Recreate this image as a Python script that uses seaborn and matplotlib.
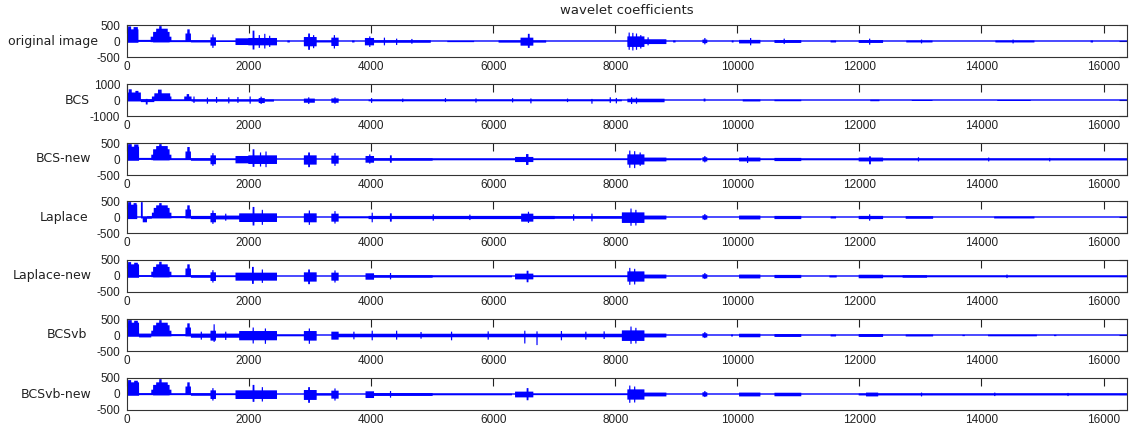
import numpy as np
import matplotlib
matplotlib.use("Agg")
import matplotlib.pyplot as plt
import seaborn as sns

N = 16384

# bursts of wavelet coefficients: (start, stop, top, bottom)
original = [
    (0, 180, 380, -40), (10, 60, 470, -40), (100, 170, 450, -30),
    (180, 380, 50, -10), (380, 720, 150, -20), (420, 690, 300, -30),
    (470, 660, 400, -30), (520, 560, 480, -30), (720, 950, 30, -20),
    (950, 1040, 250, -20), (980, 1020, 380, -20), (1040, 1360, 40, -30),
    (1360, 1450, 130, -130), (1390, 1410, 220, -200), (1450, 1770, 15, -15),
    (1770, 1980, 100, -110), (1980, 2450, 110, -120), (2050, 2080, 340, -250),
    (2150, 2170, 200, -200), (2240, 2260, 240, -220), (2320, 2340, 180, -170),
    (2620, 2660, 30, -30), (2890, 3100, 140, -150), (2960, 2990, 250, -260),
    (3040, 3060, 200, -210), (3100, 3340, 30, -30), (3340, 3460, 120, -140),
    (3380, 3400, 200, -220), (3680, 3720, 30, -30), (3890, 4040, 110, -120),
    (3960, 3980, 160, -170), (4040, 4970, 40, -40), (4200, 4220, 120, -120),
    (4400, 4420, 90, -110), (4650, 4670, 80, -70), (5240, 5680, 20, -20),
    (6080, 6860, 35, -35), (6440, 6650, 120, -130), (6560, 6590, 240, -200),
    (8190, 8470, 160, -170), (8210, 8230, 280, -260), (8270, 8290, 270, -280),
    (8330, 8350, 250, -260), (8400, 8420, 200, -220), (8470, 8830, 70, -80),
    (8520, 8540, 130, -120), (8940, 8980, 30, -30), (9420, 9500, 60, -50),
    (9450, 9470, 110, -90), (9900, 9930, 30, -30), (10020, 10370, 50, -60),
    (10200, 10220, 110, -120), (10600, 11040, 45, -45), (10750, 10770, 90, -80),
    (11520, 11610, 30, -30), (11980, 12380, 45, -45), (12150, 12170, 90, -100),
    (12760, 13190, 30, -30), (13000, 13020, 60, -60), (14220, 14860, 30, -30),
    (14500, 14520, 60, -60), (15780, 15820, 30, -30),
]
bcs = [
    (0, 220, 500, -60), (20, 70, 700, -60), (130, 180, 600, -50),
    (220, 440, 80, -100), (300, 330, 100, -250), (400, 720, 250, -40),
    (440, 700, 450, -40), (500, 560, 680, -40), (720, 930, 40, -40),
    (930, 1050, 250, -40), (970, 1010, 400, -40), (1050, 2400, 60, -70),
    (1080, 1100, 250, -150), (1300, 1320, 180, -200), (1450, 1470, 220, -150),
    (1650, 1670, 200, -180), (1800, 1820, 220, -150), (2000, 2020, 250, -200),
    (2150, 2250, 150, -160), (2180, 2200, 240, -220), (2890, 3070, 120, -140),
    (2960, 2980, 200, -220), (3340, 3460, 130, -140), (3390, 3410, 200, -200),
    (3950, 8100, 50, -50), (3990, 4010, 150, -150), (4500, 4520, 120, -100),
    (5200, 5220, 150, -100), (5700, 5720, 130, -130), (6300, 6320, 150, -120),
    (6600, 6620, 130, -180), (7200, 7220, 120, -100), (7600, 7620, 100, -200),
    (7900, 7920, 200, -150), (8000, 8020, 160, -180), (8190, 8800, 110, -110),
    (8250, 8270, 200, -220), (8330, 8350, 180, -200), (9440, 9470, 120, -60),
    (10080, 10370, 60, -60), (10600, 11040, 45, -45), (12170, 12320, 45, -45),
    (12850, 13190, 30, -30), (14250, 14800, 30, -30),
]
bcs_new = [
    (0, 190, 400, -40), (10, 70, 480, -40), (110, 180, 470, -30),
    (190, 390, 50, -10), (390, 720, 150, -20), (420, 690, 320, -30),
    (470, 660, 420, -30), (520, 560, 480, -30), (720, 950, 30, -20),
    (950, 1040, 250, -20), (980, 1020, 390, -20), (1040, 1360, 40, -40),
    (1360, 1450, 130, -150), (1390, 1410, 200, -200), (1450, 1770, 20, -20),
    (1770, 1980, 110, -120), (1980, 2450, 130, -140), (2050, 2080, 320, -230),
    (2170, 2190, 220, -220), (2260, 2280, 250, -240), (2890, 3100, 130, -160),
    (2960, 2990, 220, -240), (3340, 3460, 120, -130), (3390, 3410, 200, -200),
    (3900, 4040, 110, -100), (3960, 3980, 160, -130), (4040, 5000, 40, -40),
    (4300, 4330, 130, -100), (5000, 6350, 25, -25), (6350, 6650, 80, -80),
    (6530, 6570, 170, -170), (6650, 8190, 20, -20), (8190, 8470, 160, -160),
    (8220, 8240, 280, -260), (8300, 8320, 260, -270), (8390, 8410, 220, -200),
    (8470, 8830, 60, -60), (8830, 9400, 25, -25), (9420, 9500, 70, -60),
    (9450, 9470, 110, -90), (9500, 10020, 20, -20), (10020, 10370, 60, -60),
    (10150, 10170, 110, -110), (10370, 10600, 20, -20), (10600, 11040, 50, -50),
    (11040, 11980, 25, -25), (11980, 12380, 60, -60), (12150, 12180, 100, -150),
    (12380, 16384, 30, -30), (12950, 12970, 70, -60), (14100, 14120, 60, -60),
    (15100, 15120, 50, -60),
]
laplace = [
    (0, 160, 400, -50), (10, 60, 480, -50), (100, 150, 450, -40),
    (220, 250, 480, -30), (250, 320, 20, -150), (320, 400, 40, -40),
    (400, 720, 150, -30), (430, 690, 300, -30), (470, 660, 380, -30),
    (520, 560, 450, -30), (720, 950, 40, -20), (950, 1040, 250, -30),
    (980, 1020, 380, -30), (1040, 1360, 50, -50), (1360, 1450, 140, -150),
    (1390, 1410, 220, -200), (1450, 1830, 60, -60), (1600, 1620, 120, -100),
    (1830, 2450, 130, -140), (2050, 2080, 330, -250), (2200, 2220, 240, -230),
    (2890, 3100, 130, -150), (2970, 2990, 220, -230), (3340, 3460, 120, -130),
    (3390, 3410, 200, -190), (3460, 3950, 25, -25), (3950, 7000, 50, -50),
    (4000, 4020, 150, -150), (4300, 4330, 130, -130), (5000, 5020, 100, -100),
    (5600, 5620, 90, -80), (6450, 6650, 120, -130), (6560, 6580, 180, -170),
    (7000, 8100, 40, -40), (7300, 7320, 100, -100), (7600, 7620, 120, -120),
    (8100, 8470, 160, -170), (8240, 8260, 280, -260), (8320, 8340, 240, -250),
    (8470, 8830, 60, -60), (9420, 9500, 70, -60), (9450, 9470, 110, -80),
    (10020, 10370, 60, -60), (10600, 11040, 50, -50), (11520, 11610, 30, -30),
    (11980, 12380, 50, -50), (12150, 12170, 100, -100), (12750, 13200, 40, -40),
    (14200, 14860, 30, -30),
]
laplace_new = [
    (0, 190, 380, -40), (10, 60, 450, -40), (110, 170, 430, -30),
    (190, 390, 40, -10), (390, 720, 150, -20), (420, 690, 300, -30),
    (470, 660, 380, -30), (520, 560, 460, -30), (720, 950, 30, -20),
    (950, 1040, 250, -20), (980, 1020, 380, -20), (1040, 1360, 40, -40),
    (1360, 1450, 130, -140), (1390, 1410, 200, -190), (1450, 1770, 20, -20),
    (1770, 2450, 120, -130), (2040, 2070, 300, -230), (2200, 2220, 220, -200),
    (2890, 3100, 130, -160), (2960, 2990, 220, -240), (3340, 3460, 120, -130),
    (3390, 3410, 190, -190), (3900, 4040, 100, -100), (4040, 5000, 40, -40),
    (4300, 4320, 110, -90), (5000, 6300, 25, -25), (6350, 6650, 90, -90),
    (6540, 6570, 180, -180), (6650, 8190, 20, -20), (8190, 8470, 160, -160),
    (8220, 8240, 270, -260), (8300, 8320, 240, -250), (8470, 8830, 60, -60),
    (9420, 9500, 70, -60), (9450, 9470, 110, -80), (10020, 10370, 60, -60),
    (10600, 11040, 50, -50), (11500, 11620, 30, -30), (11980, 12380, 55, -55),
    (12380, 16384, 25, -25), (12700, 13100, 40, -40), (14400, 14420, 60, -50),
]
bcsvb = [
    (0, 190, 400, -40), (10, 70, 480, -40), (110, 170, 460, -30),
    (190, 390, 60, -60), (390, 720, 150, -30), (420, 690, 320, -30),
    (470, 660, 400, -30), (520, 560, 480, -30), (720, 950, 40, -20),
    (950, 1040, 250, -30), (980, 1020, 380, -30), (1040, 1360, 60, -70),
    (1200, 1220, 120, -130), (1360, 1450, 150, -160), (1410, 1430, 350, -200),
    (1450, 1830, 60, -70), (1600, 1620, 120, -140), (1830, 2450, 140, -150),
    (2050, 2070, 250, -250), (2250, 2270, 220, -260), (2450, 2890, 25, -25),
    (2890, 3100, 140, -160), (2970, 2990, 220, -260), (3340, 3460, 120, -130),
    (3460, 8100, 55, -55), (3700, 3720, 120, -120), (4000, 4020, 150, -150),
    (4400, 4420, 150, -130), (4800, 4820, 110, -100), (5300, 5320, 120, -150),
    (5900, 5920, 130, -130), (6500, 6520, 150, -250), (6700, 6720, 130, -300),
    (7100, 7120, 140, -150), (7500, 7520, 120, -130), (7800, 7820, 130, -110),
    (8100, 8470, 160, -170), (8240, 8260, 280, -260), (8320, 8340, 240, -250),
    (8470, 8830, 60, -60), (9420, 9500, 70, -60), (9450, 9470, 110, -80),
    (9890, 9920, 30, -30), (10020, 10370, 55, -55), (10600, 11040, 45, -45),
    (11520, 11610, 30, -30), (11980, 12380, 45, -45), (12750, 13200, 30, -30),
    (13680, 13720, 20, -20), (14100, 14900, 25, -25), (15180, 15220, 20, -20),
]
bcsvb_new = [
    (0, 190, 380, -40), (10, 60, 450, -40), (110, 170, 430, -30),
    (190, 390, 40, -20), (390, 720, 150, -20), (420, 690, 300, -30),
    (470, 660, 380, -30), (520, 560, 480, -30), (720, 950, 30, -20),
    (950, 1040, 250, -20), (980, 1020, 380, -20), (1040, 1360, 40, -40),
    (1360, 1450, 130, -140), (1390, 1410, 200, -190), (1450, 1770, 20, -20),
    (1770, 2450, 130, -140), (2050, 2080, 300, -230), (2200, 2220, 230, -220),
    (2890, 3100, 140, -170), (2960, 2990, 230, -260), (3100, 3340, 35, -35),
    (3340, 3460, 120, -130), (3390, 3410, 190, -190), (3900, 4040, 100, -110),
    (4040, 5000, 45, -45), (4300, 4320, 110, -100), (5000, 6300, 25, -25),
    (6350, 6650, 90, -90), (6540, 6570, 200, -180), (6650, 8190, 20, -20),
    (8190, 8470, 160, -160), (8220, 8240, 280, -260), (8300, 8320, 250, -250),
    (8470, 8830, 60, -60), (9420, 9500, 70, -60), (9450, 9470, 110, -80),
    (10020, 10370, 60, -60), (10600, 11040, 55, -55), (11980, 16384, 30, -30),
    (12100, 12300, 60, -60), (13000, 13020, 60, -60), (14200, 14220, 60, -50),
    (15400, 15420, 50, -50),
]

names = ["original image", "BCS", "BCS-new", "Laplace", "Laplace-new", "BCSvb", "BCSvb-new"]
series = [original, bcs, bcs_new, laplace, laplace_new, bcsvb, bcsvb_new]
ylims = [500, 1000, 500, 500, 500, 500, 500]
xticks = [0, 2000, 4000, 6000, 8000, 10000, 12000, 14000, 16000]


def envelope(bursts):
    hi = np.zeros(N)
    lo = np.zeros(N)
    for a, b, top, bot in bursts:
        hi[a:b] = np.maximum(hi[a:b], top)
        lo[a:b] = np.minimum(lo[a:b], bot)
    return hi, lo


sns.set_style("white")
plt.rcParams["font.family"] = ["Liberation Sans", "DejaVu Sans"]
plt.rcParams["axes.unicode_minus"] = False

W, H = 1129, 432
fig = plt.figure(figsize=(W / 100, H / 100), dpi=100)

idx = np.arange(N)
tops = [25, 84, 143, 201, 260, 319, 378]   # pixel rows of the panels
label_right = [98, 90, 91, 88, 92, 87, 91]
blue = "#0000ff"
txt = "#222222"

for i, (name, bursts, lim) in enumerate(zip(names, series, ylims)):
    ax = fig.add_axes([127 / W, 1 - (tops[i] + 32) / H, 1000 / W, 32 / H])
    hi, lo = envelope(bursts)
    ax.fill_between(idx, lo, hi, color=blue, lw=0)
    sns.lineplot(x=idx, y=np.zeros(N), ax=ax, color=blue, lw=1.0, estimator=None)
    ax.set_xlim(0, N)
    ax.set_ylim(-lim, lim)
    ax.set_yticks([-lim, 0, lim])
    ax.set_xticks(xticks)
    ax.tick_params(direction="in", length=6, width=0.8, top=True, right=True,
                   labelsize=8.5, colors=txt, pad=3)
    ax.tick_params(axis="y", pad=5)
    for s in ax.spines.values():
        s.set_color("#333333")
        s.set_linewidth(0.8)
        s.set_visible(True)
    ax.set_ylabel("")
    ax.text((label_right[i] - 127) / 1000, 0.5, name, transform=ax.transAxes,
            ha="right", va="center", fontsize=9, color=txt, family="DejaVu Sans")

fig.text(627 / W, 1 - 10 / H, "wavelet coefficients", ha="center", va="center",
         fontsize=9.5, color=txt, family="DejaVu Sans")

fig.savefig("out.png", dpi=100)
